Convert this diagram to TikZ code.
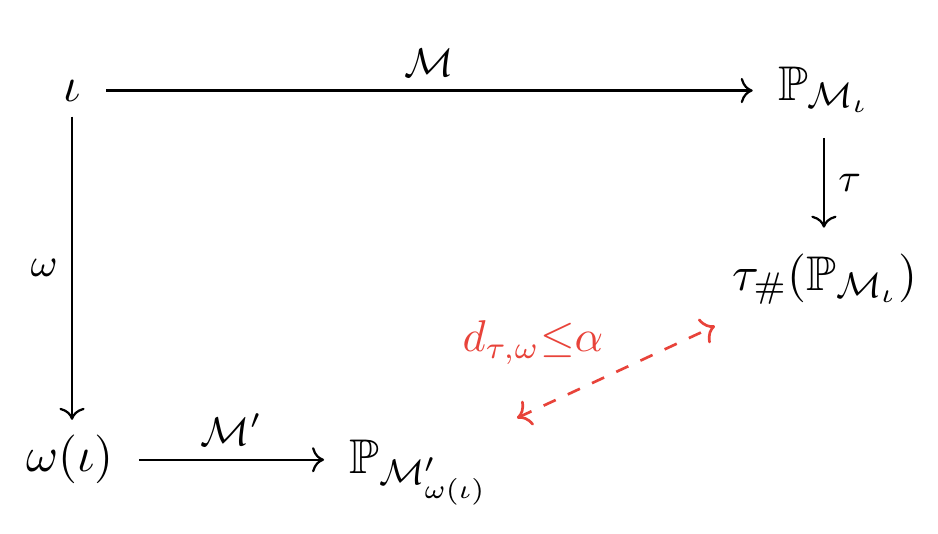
\documentclass[11pt,tikz,border=0pt]{standalone}
\usepackage{amsmath,amssymb}
\usepackage{tikz}
\usetikzlibrary{positioning,arrows.meta,calc}
\usepackage{xcolor}
\definecolor{softred}{HTML}{E8433A}

\begin{document}
\begin{tikzpicture}[
    obj/.style={anchor=base, inner xsep=5.5pt, inner ysep=3.3pt},
    arrow/.style={->, line width=0.5pt},
    gap/.style={dashed, <->, draw=softred, semithick},
    lbl/.style={font=\footnotesize, inner sep=3pt}
]
  \useasboundingbox (0,0) rectangle (7.41,-4.218);

  % Objects
  \node[obj] (iota) at (0.569,-0.798) {$\iota$};
  \node[obj] (pm) at (6.509,-0.790) {$\mathbb{P}_{\mathcal{M}_\iota}$};
  \node[obj] (push) at (6.517,-2.291) {$\tau_{\#}(\mathbb{P}_{\mathcal{M}_\iota})$};
  \node[obj] (wiota) at (0.553,-3.728) {$\omega(\iota)$};
  \node[obj] (pmw) at (3.310,-3.744) {$\mathbb{P}_{\mathcal{M}'_{\omega(\iota)}}$};

  % Arrows
  \draw[arrow] (iota.east) -- (iota.east -| pm.west)
    node[lbl, midway, above] {$\mathcal{M}$};
  \draw[arrow, shorten <=2.3pt, shorten >=2.3pt] (pm.south) -- (pm.south |- push.north)
    node[lbl, midway, right] {$\tau$};
  \draw[arrow] (iota.south) -- (iota.south |- wiota.north)
    node[lbl, midway, left] {$\omega$};
  \draw[arrow] (wiota.east) -- (wiota.east -| pmw.west)
    node[lbl, midway, above] {$\mathcal{M}'$};

  % Distance
  \coordinate (lo) at (4.084,-3.302);
  \coordinate (hi) at (5.648,-2.575);
  \draw[gap] (lo) -- (hi);
  \node[text=softred, font=\small, anchor=base] (dist) at (4.210,-2.780) {$d_{\tau,\omega}{\leq}\alpha$};
\end{tikzpicture}
\end{document}
